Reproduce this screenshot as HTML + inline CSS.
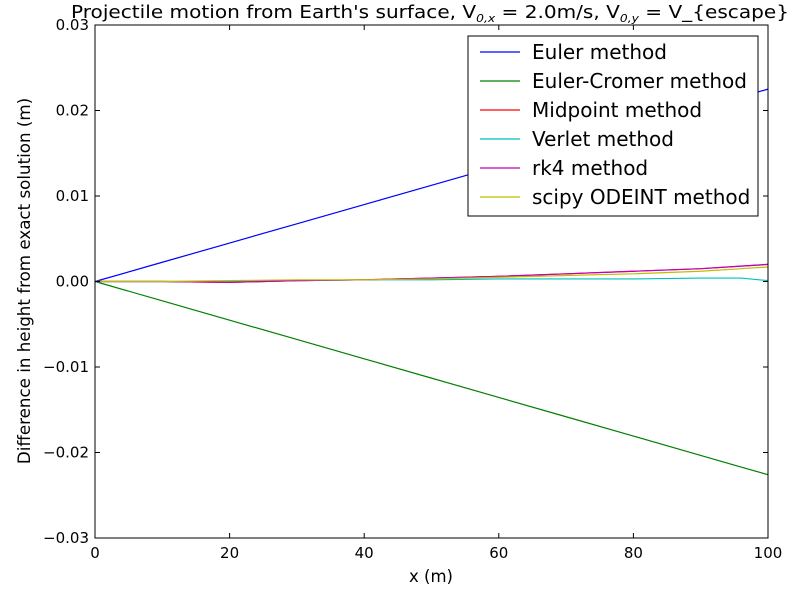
<!DOCTYPE html>
<html><head><meta charset="utf-8"><style>
body{margin:0;background:#fff;}
svg text{font-family:"DejaVu Sans","Liberation Sans",sans-serif;}
</style></head><body>
<svg id="chart" width="800" height="600" xmlns="http://www.w3.org/2000/svg">
<rect width="800" height="600" fill="#fff"/>
<text x="430" y="18" text-anchor="middle" font-size="18" textLength="718" lengthAdjust="spacingAndGlyphs">Projectile motion from Earth's surface,  V<tspan font-size="11" dy="4" font-style="italic">0,x</tspan><tspan dy="-4"> = 2.0m/s, V</tspan><tspan font-size="11" dy="4" font-style="italic">0,y</tspan><tspan dy="-4"> = V_{escape}</tspan></text>
<g id="series"></g>
<rect x="95" y="25" width="673" height="513" fill="none" stroke="#000" stroke-width="1"/>
<g id="axes"></g>
<text x="431" y="582" text-anchor="middle" font-size="16.5">x (m)</text>
<text transform="translate(30,281) rotate(-90)" text-anchor="middle" font-size="16.7">Difference in height from exact solution (m)</text>
<g>
<rect x="468" y="36" width="290" height="180" fill="#fff" stroke="#000"/>
<g id="legend"></g>
</g>
</svg>
<script>
const xs = [0,10,20,30,40,50,60,70,80,90,96,100];
const euler = [0,0.00225,0.0045,0.00675,0.009,0.01125,0.0135,0.01575,0.018,0.02025,0.0216,0.0225];
const eulerCromer = [0,-0.00226,-0.00452,-0.00678,-0.00904,-0.0113,-0.01356,-0.01582,-0.01808,-0.02034,-0.0217,-0.0226];
const midpoint = [0,0,-0.0001,0.0001,0.0002,0.0004,0.0006,0.0009,0.0012,0.0015,0.0018,0.002];
const verlet = [0,0,0,0.0001,0.0002,0.0002,0.0003,0.0003,0.0003,0.0004,0.0004,0.0001];
const rk4 = [0,0,-0.0001,0.0001,0.0002,0.0004,0.0006,0.0009,0.0012,0.0015,0.0018,0.002];
const odeint = [0,0,0.0001,0.0002,0.0002,0.0003,0.0005,0.0007,0.0009,0.0012,0.0015,0.0017];
const seriesNames = ["Euler method","Euler-Cromer method","Midpoint method","Verlet method","rk4 method","scipy ODEINT method"];
const seriesVals = [euler,eulerCromer,midpoint,verlet,rk4,odeint];
const seriesColors = ["#0000ff","#008000","#ff0000","#00bfbf","#bf00bf","#bfbf00"];
const xTicks = [0,20,40,60,80,100];
const yTicks = [-0.03,-0.02,-0.01,0,0.01,0.02,0.03];
const yTickLabels = ["\u22120.03","\u22120.02","\u22120.01","0.00","0.01","0.02","0.03"];

const NS="http://www.w3.org/2000/svg";
const X0=95,X1=768,Y0=538,Y1=25;
const sx=v=>X0+(v-0)/(100-0)*(X1-X0);
const sy=v=>Y0-(v+0.03)/0.06*(Y0-Y1);
function mk(t,a){const e=document.createElementNS(NS,t);for(const k in a)e.setAttribute(k,a[k]);return e;}
const sg=document.getElementById('series');
seriesVals.forEach((vals,i)=>{
  const p=mk('polyline',{points:vals.map((v,j)=>sx(xs[j])+','+sy(v)).join(' '),fill:'none',stroke:seriesColors[i],'stroke-width':1.2});
  
  
  sg.appendChild(p);
});
const ax=document.getElementById('axes');
xTicks.forEach(t=>{
  const x=sx(t);
  ax.appendChild(mk('line',{x1:x,x2:x,y1:Y0,y2:Y0-5,stroke:'#000'}));
  ax.appendChild(mk('line',{x1:x,x2:x,y1:Y1,y2:Y1+5,stroke:'#000'}));
  const tx=mk('text',{x:x,y:Y0+20,'text-anchor':'middle','font-size':15});
  tx.textContent=t;
  
  
  ax.appendChild(tx);
});
yTicks.forEach((t,i)=>{
  const y=sy(t);
  ax.appendChild(mk('line',{x1:X0,x2:X0+5,y1:y,y2:y,stroke:'#000'}));
  ax.appendChild(mk('line',{x1:X1,x2:X1-5,y1:y,y2:y,stroke:'#000'}));
  const tx=mk('text',{x:X0-6,y:y+5,'text-anchor':'end','font-size':15});
  tx.textContent=yTickLabels[i];
  
  
  ax.appendChild(tx);
});
const lg=document.getElementById('legend');
seriesNames.forEach((n,i)=>{
  const y=52+i*29;
  const g=mk('g',{});
  
  
  g.appendChild(mk('line',{x1:480,x2:520,y1:y,y2:y,stroke:seriesColors[i],'stroke-width':1.2}));
  const tx=mk('text',{x:532,y:y+7,'font-size':20});
  tx.textContent=n;
  g.appendChild(tx);
  lg.appendChild(g);
});
</script>
</body></html>
